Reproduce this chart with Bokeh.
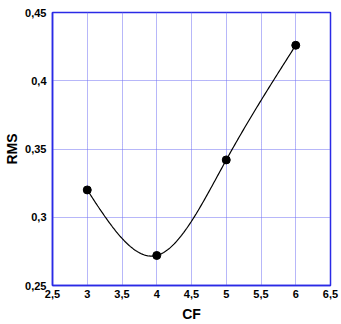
import numpy as np
from bokeh.plotting import figure
from bokeh.models import FixedTicker, CustomJSTickFormatter, Range1d
from bokeh.embed import file_html
from bokeh.resources import INLINE

cf = [3, 4, 5, 6]
rms = [0.320, 0.272, 0.342, 0.426]
x_ticks = [2.5, 3, 3.5, 4, 4.5, 5, 5.5, 6, 6.5]
y_ticks = [0.25, 0.30, 0.35, 0.40, 0.45]


def natural_spline(xs, ys, n=200):
    xs = np.asarray(xs, float); ys = np.asarray(ys, float)
    m = len(xs)
    h = np.diff(xs)
    A = np.zeros((m, m)); b = np.zeros(m)
    A[0, 0] = 1; A[-1, -1] = 1
    for i in range(1, m - 1):
        A[i, i - 1] = h[i - 1]
        A[i, i] = 2 * (h[i - 1] + h[i])
        A[i, i + 1] = h[i]
        b[i] = 6 * ((ys[i + 1] - ys[i]) / h[i] - (ys[i] - ys[i - 1]) / h[i - 1])
    M = np.linalg.solve(A, b)
    xx = np.linspace(xs[0], xs[-1], n)
    yy = np.empty_like(xx)
    for k, x in enumerate(xx):
        i = min(np.searchsorted(xs, x, side="right") - 1, m - 2)
        t1 = xs[i + 1] - x; t0 = x - xs[i]
        yy[k] = (M[i] * t1**3 + M[i + 1] * t0**3) / (6 * h[i]) \
            + (ys[i] / h[i] - M[i] * h[i] / 6) * t1 \
            + (ys[i + 1] / h[i] - M[i + 1] * h[i] / 6) * t0
    return xx, yy


p = figure(width=341, height=324, output_backend="svg", toolbar_location=None,
           x_range=Range1d(2.5, 6.5), y_range=Range1d(0.25, 0.45),
           min_border_left=52, min_border_right=11, min_border_top=12, min_border_bottom=37)

fmt = CustomJSTickFormatter(code="var s=(Math.round(tick*100)/100).toString(); return s.replace('.', ',');")
for ax, ticks in ((p.xaxis[0], x_ticks), (p.yaxis[0], y_ticks)):
    ax.ticker = FixedTicker(ticks=ticks)
    ax.formatter = fmt
    ax.major_tick_line_color = None
    ax.minor_tick_line_color = None
    ax.major_tick_out = 0
    ax.major_tick_in = 0
    ax.minor_tick_out = 0
    ax.minor_tick_in = 0
    ax.axis_line_color = "#2a2ae6"
    ax.axis_line_width = 1.5
    ax.major_label_text_font = "Liberation Sans"
    ax.major_label_text_font_style = "bold"
    ax.major_label_text_font_size = "11px"
    ax.major_label_text_color = "black"
    ax.axis_label_text_font = "Liberation Sans"
    ax.axis_label_text_font_style = "bold"
    ax.axis_label_text_font_size = "14px"
    ax.axis_label_text_color = "black"
p.xaxis.axis_label = "CF"
p.yaxis.axis_label = "RMS"
p.yaxis.major_label_standoff = 6
p.xaxis.major_label_standoff = 4
p.xaxis.axis_label_standoff = 5
p.yaxis.axis_label_standoff = 2

p.outline_line_color = "#2a2ae6"
p.outline_line_width = 1.5
p.grid.grid_line_color = "#6e6ef2"
p.grid.grid_line_dash = "1 1"
p.grid.grid_line_width = 1
p.xgrid.ticker = FixedTicker(ticks=x_ticks)
p.ygrid.ticker = FixedTicker(ticks=y_ticks)

sx, sy = natural_spline(cf, rms)
p.line(sx, sy, line_color="black", line_width=1.2)
p.scatter(cf, rms, size=8, color="black")

open("out.html", "w").write(file_html(p, INLINE))
